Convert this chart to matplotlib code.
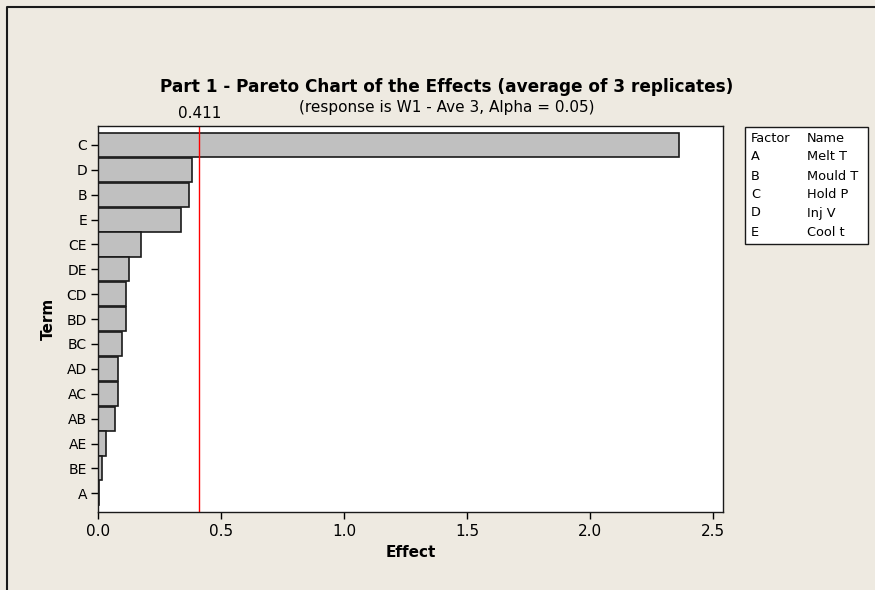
import matplotlib.pyplot as plt
from matplotlib.patches import Rectangle
from matplotlib.lines import Line2D
from matplotlib.transforms import blended_transform_factory

# Pareto data
terms = ['C', 'D', 'B', 'E', 'CE', 'DE', 'CD', 'BD', 'BC', 'AD', 'AC', 'AB', 'AE', 'BE', 'A']
effects = [2.36, 0.381, 0.369, 0.337, 0.173, 0.123, 0.112, 0.111, 0.098, 0.080, 0.079, 0.068, 0.031, 0.016, 0.005]
critical = 0.411

factors = ['A', 'B', 'C', 'D', 'E']
factor_names = ['Melt T', 'Mould T', 'Hold P', 'Inj V', 'Cool t']

bg = '#EEEAE1'

fig = plt.figure(figsize=(8.75, 5.9), dpi=100, facecolor=bg)
ax = fig.add_axes([0.1123, 0.1327, 0.714, 0.6537])
ax.set_facecolor('white')

ypos = list(range(len(terms)))
ax.barh(ypos, effects, height=0.97, color='#C0C0C0', edgecolor='#1a1a1a', linewidth=1.2)
ax.axvline(critical, color='red', linewidth=1)

ax.set_xlim(0, 2.54)
ax.set_ylim(len(terms) - 0.26, -0.76)
ax.set_yticks(ypos)
ax.set_yticklabels(terms)
ax.set_xticks([0.0, 0.5, 1.0, 1.5, 2.0, 2.5])
ax.set_xticklabels(['0.0', '0.5', '1.0', '1.5', '2.0', '2.5'])
ax.tick_params(axis='x', labelsize=11, length=5, width=1, direction='out', pad=4)
ax.tick_params(axis='y', labelsize=10, length=5, width=1, direction='out', pad=3)
for s in ax.spines.values():
    s.set_linewidth(1)
    s.set_color('#1a1a1a')

ax.set_xlabel('Effect', fontsize=11, fontweight='bold', labelpad=4)
ax.set_ylabel('Term', fontsize=11, fontweight='bold', labelpad=8)

trans = blended_transform_factory(ax.transData, ax.transAxes)
ax.text(critical, 1.012, '0.411', transform=trans, ha='center', va='bottom', fontsize=11)

fig.text(0.511, 0.853, 'Part 1 - Pareto Chart of the Effects (average of 3 replicates)',
         ha='center', va='center', fontsize=12.2, fontweight='bold')
fig.text(0.511, 0.818, '(response is W1 - Ave 3, Alpha = 0.05)',
         ha='center', va='center', fontsize=11)

# outer frame (only top and left edges are visible in the original)
fx, fy = 7 / 875, 1 - 7 / 590
fig.add_artist(Line2D([fx, fx, 1.0], [0.0, fy, fy], transform=fig.transFigure,
                      color='#1a1a1a', linewidth=1.5))

# factor / name table
fig.patches.append(Rectangle((745 / 875, 1 - 244 / 590), 123 / 875, 117 / 590,
                             transform=fig.transFigure, facecolor='white',
                             edgecolor='#1a1a1a', linewidth=1))
row_y = [139, 157, 176, 195, 213, 232]
fig.text(751 / 875, 1 - row_y[0] / 590, 'Factor', fontsize=9.3, va='center')
fig.text(807 / 875, 1 - row_y[0] / 590, 'Name', fontsize=9.3, va='center')
for f, n, y in zip(factors, factor_names, row_y[1:]):
    fig.text(751 / 875, 1 - y / 590, f, fontsize=9.3, va='center')
    fig.text(807 / 875, 1 - y / 590, n, fontsize=9.3, va='center')

fig.savefig('out.png', dpi=100, facecolor=bg)
